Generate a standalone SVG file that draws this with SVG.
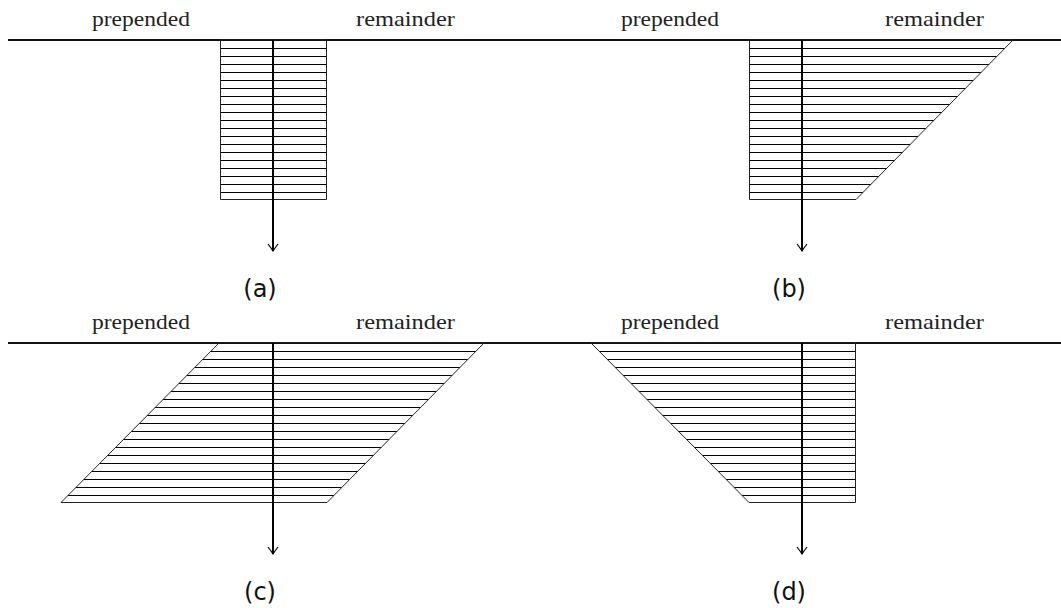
<svg xmlns="http://www.w3.org/2000/svg" width="1061" height="608" viewBox="0 0 1061 608">
<style>
.lbl{font-family:"Liberation Serif","Times New Roman",serif;font-size:21px;fill:#222}
.cap{font-family:"DejaVu Sans","Liberation Sans",sans-serif;font-size:24px;fill:#111;text-anchor:middle}
.base{stroke:#111;stroke-width:2;fill:none}
.shape{stroke:#222;stroke-width:1}
.axis{stroke:#000;stroke-width:2;fill:none;marker-end:url(#arr)}
</style>
<defs>
<pattern id="hA" patternUnits="userSpaceOnUse" x="0" y="40" width="8" height="8">
<rect x="0" y="0" width="8" height="1" fill="#000"/>
</pattern>
<pattern id="hC" patternUnits="userSpaceOnUse" x="0" y="343" width="8" height="8">
<rect x="0" y="0" width="8" height="1" fill="#000"/>
</pattern>
<marker id="arr" markerUnits="userSpaceOnUse" markerWidth="16" markerHeight="16" viewBox="-10 -8 12 16" refX="0" refY="0" orient="auto" overflow="visible">
<path d="M-7,-5 Q-2.5,-1.5 0,0 Q-2.5,1.5 -7,5" fill="none" stroke="#000" stroke-width="1.2"/>
</marker>
</defs>
<g id="panel-a">
<line class="base" x1="8" y1="40" x2="537" y2="40"/>
<polygon class="shape" fill="url(#hA)" points="220.5,40 326.5,40 326.5,199.5 220.5,199.5"/>
<text class="lbl" x="92" y="26" textLength="98" lengthAdjust="spacingAndGlyphs">prepended</text>
<text class="lbl" x="356" y="26" textLength="99" lengthAdjust="spacingAndGlyphs">remainder</text>
<text class="cap" x="260" y="297">(a)</text>
</g>
<g id="panel-b">
<line class="base" x1="537" y1="40" x2="1061" y2="40"/>
<polygon class="shape" fill="url(#hA)" points="749.5,40 1013,40 856,199.5 749.5,199.5"/>
<text class="lbl" x="621" y="26" textLength="98" lengthAdjust="spacingAndGlyphs">prepended</text>
<text class="lbl" x="885" y="26" textLength="99" lengthAdjust="spacingAndGlyphs">remainder</text>
<text class="cap" x="789" y="297">(b)</text>
</g>
<g id="panel-c">
<line class="base" x1="8" y1="343" x2="537" y2="343"/>
<polygon class="shape" fill="url(#hC)" points="219,343 484,343 327,502.5 61,502.5"/>
<text class="lbl" x="92" y="329" textLength="98" lengthAdjust="spacingAndGlyphs">prepended</text>
<text class="lbl" x="356" y="329" textLength="99" lengthAdjust="spacingAndGlyphs">remainder</text>
<text class="cap" x="260" y="600">(c)</text>
</g>
<g id="panel-d">
<line class="base" x1="537" y1="343" x2="1061" y2="343"/>
<polygon class="shape" fill="url(#hC)" points="591,343 855.5,343 855.5,502.5 749,502.5"/>
<text class="lbl" x="621" y="329" textLength="98" lengthAdjust="spacingAndGlyphs">prepended</text>
<text class="lbl" x="885" y="329" textLength="99" lengthAdjust="spacingAndGlyphs">remainder</text>
<text class="cap" x="789" y="600">(d)</text>
</g>
<g id="connectors">
<line class="axis" x1="273" y1="40" x2="273" y2="251"/>
<line class="axis" x1="802" y1="40" x2="802" y2="251"/>
<line class="axis" x1="273" y1="343" x2="273" y2="554"/>
<line class="axis" x1="802" y1="343" x2="802" y2="554"/>
</g>
</svg>
